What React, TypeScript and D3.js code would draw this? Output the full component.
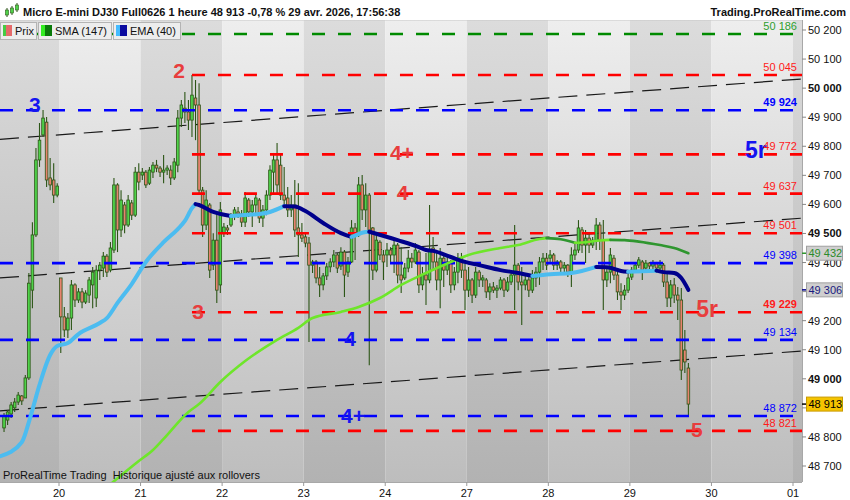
import React from 'react';
import * as d3 from 'd3';

const W = 850;
const H = 500;
const PLOT = { left: 0, right: 802, top: 20, bottom: 482 };
const FONT = "'Liberation Sans', Arial, Helvetica, sans-serif";

// ---------- data ----------
const dayLabels = ['20', '21', '22', '23', '24', '27', '28', '29', '30', '01'];
const barsPerDay = 23;
const firstDayBar = 16;

// hourly bars: [open, high, low, close]
const bars: number[][] = [
  // 19 (evening)
  [48831, 48882, 48817, 48872], [48858, 48893, 48841, 48886], [48879, 48920, 48865, 48910], [48900, 48934, 48886, 48920],
  [48920, 48955, 48910, 48944], [48941, 48944, 48910, 48924], [48934, 49013, 48934, 49003], [49003, 49364, 48996, 49329],
  [49305, 49539, 49243, 49495], [49495, 49794, 49488, 49753], [49753, 49880, 49729, 49821], [49839, 49925, 49832, 49897],
  [49883, 49901, 49660, 49684], [49691, 49760, 49649, 49667], [49684, 49742, 49605, 49632], [49632, 49673, 49625, 49663],
  // 20
  [49347, 49347, 49089, 49213], [49213, 49247, 49144, 49168], [49168, 49226, 49140, 49209], [49209, 49340, 49168, 49323],
  [49323, 49329, 49247, 49271], [49271, 49312, 49261, 49299], [49299, 49312, 49243, 49264], [49264, 49305, 49257, 49295],
  [49288, 49350, 49261, 49340], [49323, 49385, 49243, 49367], [49278, 49391, 49247, 49374], [49374, 49402, 49340, 49391],
  [49381, 49436, 49350, 49422], [49422, 49429, 49350, 49367], [49374, 49471, 49367, 49450], [49443, 49691, 49433, 49667],
  [49667, 49673, 49436, 49512], [49512, 49649, 49488, 49615], [49598, 49608, 49501, 49529], [49529, 49632, 49522, 49615],
  [49605, 49615, 49546, 49563], [49563, 49729, 49557, 49711], [49711, 49742, 49649, 49677],
  // 21
  [49701, 49725, 49684, 49711], [49711, 49718, 49656, 49667], [49673, 49729, 49667, 49718], [49711, 49746, 49691, 49735],
  [49735, 49753, 49711, 49725], [49725, 49732, 49694, 49711], [49711, 49770, 49673, 49718], [49718, 49735, 49701, 49725],
  [49718, 49735, 49667, 49691], [49691, 49760, 49684, 49746], [49735, 49925, 49711, 49897], [49897, 49959, 49866, 49942],
  [49931, 49987, 49880, 49918], [49918, 49959, 49856, 49890], [49890, 50045, 49832, 49976], [49966, 50028, 49821, 49942],
  [49942, 50017, 49639, 49649], [49649, 49660, 49488, 49529], [49529, 49649, 49512, 49615], [49598, 49605, 49347, 49374],
  [49391, 49501, 49374, 49477], [49477, 49570, 49261, 49305], [49323, 49608, 49295, 49581],
  // 22
  [49501, 49536, 49488, 49522], [49519, 49529, 49495, 49512], [49529, 49570, 49522, 49560], [49560, 49591, 49546, 49581],
  [49574, 49591, 49553, 49567], [49567, 49581, 49522, 49539], [49539, 49643, 49522, 49622], [49615, 49622, 49557, 49574],
  [49574, 49615, 49522, 49598], [49598, 49639, 49570, 49622], [49615, 49622, 49536, 49553], [49553, 49598, 49522, 49581],
  [49581, 49649, 49563, 49632], [49632, 49735, 49615, 49718], [49711, 49777, 49639, 49753], [49753, 49811, 49639, 49667],
  [49735, 49777, 49615, 49632], [49632, 49729, 49591, 49615], [49622, 49660, 49557, 49581], [49581, 49632, 49557, 49598],
  [49598, 49684, 49488, 49512], [49519, 49673, 49419, 49495], [49495, 49536, 49471, 49484],
  // 23
  [49488, 49501, 49453, 49467], [49467, 49488, 49127, 49391], [49391, 49409, 49364, 49402], [49402, 49409, 49329, 49347],
  [49347, 49385, 49281, 49323], [49323, 49364, 49305, 49354], [49354, 49398, 49340, 49385], [49385, 49415, 49367, 49402],
  [49402, 49443, 49385, 49426], [49426, 49433, 49364, 49381], [49388, 49453, 49374, 49436], [49436, 49443, 49281, 49357],
  [49367, 49419, 49350, 49402], [49402, 49546, 49398, 49519], [49519, 49536, 49409, 49495], [49495, 49694, 49488, 49667],
  [49667, 49701, 49546, 49581], [49581, 49673, 49522, 49632], [49632, 49639, 49047, 49512], [49519, 49522, 49340, 49374],
  [49374, 49501, 49367, 49477], [49470, 49477, 49409, 49426], [49426, 49443, 49340, 49402],
  // 24
  [49426, 49467, 49385, 49443], [49443, 49453, 49402, 49426], [49426, 49477, 49364, 49460], [49460, 49467, 49329, 49357],
  [49357, 49453, 49295, 49340], [49347, 49398, 49340, 49381], [49381, 49443, 49367, 49415], [49415, 49433, 49381, 49402],
  [49402, 49467, 49395, 49443], [49436, 49443, 49295, 49323], [49323, 49385, 49305, 49357], [49357, 49433, 49254, 49340],
  [49340, 49598, 49329, 49443], [49450, 49488, 49374, 49402], [49402, 49433, 49305, 49340], [49340, 49450, 49243, 49415],
  [49415, 49433, 49316, 49374], [49374, 49419, 49357, 49402], [49402, 49409, 49295, 49323], [49323, 49385, 49305, 49367],
  [49367, 49433, 49329, 49415], [49415, 49433, 49347, 49374], [49374, 49409, 49237, 49305],
  // 27
  [49305, 49385, 49281, 49340], [49340, 49347, 49261, 49288], [49288, 49385, 49278, 49367], [49367, 49374, 49316, 49340],
  [49340, 49357, 49316, 49347], [49340, 49347, 49278, 49299], [49299, 49329, 49271, 49316], [49316, 49333, 49295, 49305],
  [49305, 49323, 49278, 49312], [49312, 49350, 49305, 49340], [49340, 49347, 49281, 49305], [49305, 49350, 49299, 49333],
  [49333, 49374, 49323, 49357], [49357, 49529, 49237, 49391], [49391, 49398, 49305, 49333], [49333, 49385, 49185, 49323],
  [49323, 49364, 49305, 49340], [49340, 49350, 49281, 49305], [49305, 49374, 49295, 49347], [49347, 49385, 49316, 49367],
  [49367, 49419, 49323, 49402], [49402, 49433, 49374, 49415], [49415, 49433, 49374, 49391],
  // 28
  [49415, 49443, 49398, 49426], [49426, 49433, 49374, 49391], [49391, 49409, 49374, 49402], [49402, 49409, 49364, 49381],
  [49381, 49402, 49364, 49391], [49391, 49395, 49350, 49367], [49367, 49453, 49316, 49426], [49426, 49467, 49409, 49443],
  [49443, 49546, 49433, 49519], [49512, 49522, 49433, 49460], [49460, 49512, 49398, 49484], [49484, 49501, 49433, 49460],
  [49460, 49488, 49450, 49477], [49477, 49553, 49443, 49529], [49529, 49539, 49443, 49477], [49477, 49546, 49237, 49340],
  [49340, 49385, 49316, 49367], [49367, 49450, 49329, 49426], [49415, 49426, 49340, 49357], [49357, 49374, 49271, 49299],
  [49299, 49329, 49237, 49288], [49288, 49323, 49271, 49305], [49305, 49364, 49295, 49347],
  // 29
  [49350, 49385, 49340, 49374], [49374, 49402, 49367, 49391], [49391, 49419, 49381, 49409], [49402, 49409, 49340, 49374],
  [49381, 49409, 49374, 49398], [49398, 49402, 49374, 49388], [49388, 49409, 49374, 49398], [49398, 49402, 49364, 49381],
  [49381, 49409, 49367, 49391], [49391, 49398, 49316, 49333], [49333, 49364, 49247, 49278], [49278, 49340, 49247, 49323],
  [49323, 49347, 49261, 49288], [49288, 49316, 49202, 49271], [49271, 49312, 48996, 49030], [49099, 49168, 49020, 49058],
  [49037, 49054, 48875, 48913],
];

// moving averages: [bar index, value]
const ema40: number[][] = [
  [-1, 48734], [5, 48782], [7, 48851], [8, 48893], [10, 48979], [13, 49082], [15, 49113], [18, 49123],
  [21, 49154], [27, 49192], [29, 49209], [32, 49261], [36, 49326], [40, 49402], [45, 49470], [49, 49515],
  [51, 49543], [53, 49587], [54, 49601], [55, 49598], [59, 49574], [64, 49560], [67, 49563], [72, 49567],
  [75, 49574], [79, 49594], [82, 49593], [85, 49577], [90, 49536], [95, 49501], [98, 49488], [102, 49505],
  [103, 49506], [111, 49477], [117, 49453], [119, 49443], [121, 49440], [126, 49419], [130, 49402], [134, 49391],
  [140, 49374], [145, 49364], [149, 49354], [154, 49360], [160, 49364], [167, 49385], [170, 49384], [174, 49371],
  [176, 49368], [180, 49370], [184, 49372], [186, 49367], [189, 49364], [191, 49347], [193, 49306],
];
const sma147: number[][] = [
  [28, 48617], [38, 48717], [42, 48755], [45, 48793], [52, 48886], [55, 48913], [61, 48989], [68, 49061],
  [77, 49134], [83, 49175], [87, 49209], [95, 49230], [100, 49247], [106, 49278], [112, 49323], [119, 49364],
  [126, 49402], [131, 49426], [140, 49450], [145, 49460], [151, 49481], [153, 49484], [157, 49480], [161, 49468],
  [163, 49469], [168, 49476], [171, 49478], [175, 49477], [179, 49472], [185, 49460], [189, 49450], [193, 49432],
];

const yTicks = [48700, 48800, 48900, 49000, 49100, 49200, 49300, 49400, 49500, 49600, 49700, 49800, 49900, 50000, 50100, 50200];
const boldYTicks = [49000, 49500, 50000];

const greenLevels = [50186];
const blueLevels = [49924, 49398, 49134, 48872];
const redLevels = [50045, 49772, 49637, 49501, 49229, 48821];
const boldLevels = [49924, 49229];
const redLevelsFromBar = 53;

// trend channel: [bar1, price1, bar2, price2]
const channel: number[][] = [
  [0, 49825, 220, 50027],
  [0, 49348, 220, 49548],
  [0, 48891, 220, 49091],
];

const annotations = [
  { text: '2', bar: 49.4, price: 50062, tone: 'red' },
  { text: '3', bar: 8.7, price: 49942, tone: 'blue' },
  { text: '4+', bar: 112.2, price: 49778, tone: 'red' },
  { text: '4', bar: 112.4, price: 49641, tone: 'red' },
  { text: '3', bar: 54.7, price: 49233, tone: 'red' },
  { text: '4', bar: 97.6, price: 49139, tone: 'blue' },
  { text: '4+', bar: 98.4, price: 48874, tone: 'blue' },
  { text: '5r', bar: 212, price: 49787, tone: 'blue' },
  { text: '5r', bar: 198.3, price: 49240, tone: 'red' },
  { text: '5', bar: 195.4, price: 48825, tone: 'red' },
];

const headerTitle = 'Micro E-mini DJ30 Full0626 1 heure 48 913 -0,78 % 29 avr. 2026, 17:56:38';
const headerSite = 'Trading.ProRealTime.com';
const footerNote = 'ProRealTime Trading  Historique ajusté aux rollovers';
const legendItems = ['Prix', 'SMA (147)', 'EMA (40)'];

// ---------- helpers ----------
const fmt = d3.formatLocale({ decimal: ',', thousands: ' ', grouping: [3], currency: ['', ''] }).format(',d');

const xScale = d3
  .scaleLinear()
  .domain([firstDayBar - 0.5, firstDayBar - 0.5 + barsPerDay * (dayLabels.length - 1)])
  .range([59, 793]);
const yScale = d3.scaleLinear().domain([48700, 50200]).range([466, 30]);

function splitRuns(pts: number[][]) {
  const out: { up: boolean; pts: number[][] }[] = [];
  let cur: number[][] = [pts[0]];
  let dir: boolean | null = null;
  for (let k = 1; k < pts.length; k++) {
    const up = pts[k][1] >= pts[k - 1][1];
    if (dir === null || up === dir) {
      cur.push(pts[k]);
      dir = up;
    } else {
      out.push({ up: dir, pts: cur });
      cur = [pts[k - 1], pts[k]];
      dir = up;
    }
  }
  out.push({ up: dir as boolean, pts: cur });
  return out;
}

const maLine = d3
  .line<number[]>()
  .x((d) => xScale(d[0]))
  .y((d) => yScale(d[1]))
  .curve(d3.curveMonotoneX);

export default function App() {
  const bandW = xScale(1) - xScale(0);
  const bands: { x0: number; x1: number; light: boolean }[] = [];
  for (let k = -1; k < dayLabels.length; k++) {
    const x0 = Math.max(PLOT.left, xScale(firstDayBar - 0.5 + barsPerDay * k));
    const x1 = Math.min(PLOT.right, xScale(firstDayBar - 0.5 + barsPerDay * (k + 1)));
    if (x1 > x0) bands.push({ x0, x1, light: ((k % 2) + 2) % 2 === 0 });
  }
  const dayX = dayLabels.map((_, k) => xScale(firstDayBar - 0.5 + barsPerDay * k));
  const fullEnd = dayX[dayX.length - 1];
  const redStart = xScale(redLevelsFromBar);

  const chLines = channel.map(([b1, p1, b2, p2]) => {
    const slope = (p2 - p1) / (b2 - b1);
    const bL = xScale.invert(PLOT.left);
    const bR = xScale.invert(PLOT.right);
    return {
      x1: PLOT.left,
      y1: yScale(p1 + slope * (bL - b1)),
      x2: PLOT.right,
      y2: yScale(p1 + slope * (bR - b1)),
    };
  });

  const emaRuns = splitRuns(ema40);
  const smaRuns = splitRuns(sma147);

  const last = bars[bars.length - 1][3];
  const emaLast = ema40[ema40.length - 1][1];
  const smaLast = sma147[sma147.length - 1][1];
  const tagValues = [last, emaLast, smaLast];
  // tick labels fully covered by a price tag are not visible in the reference
  const visibleTicks = yTicks.filter((t) => tagValues.every((v) => Math.abs(yScale(t) - yScale(v)) > 8));

  const levelLabel = (v: number, color: string) => (
    <text
      key={'ll' + v}
      x={797}
      y={yScale(v) - 4}
      textAnchor="end"
      fontSize={11}
      fontWeight={boldLevels.includes(v) ? 'bold' : 'normal'}
      fill={color}
    >
      {fmt(v)}
    </text>
  );

  const tag = (v: number, fill: string, stroke: string, color: string, tick: string) => {
    const y = yScale(v);
    return (
      <g key={'tag' + v}>
        <line x1={802} x2={806} y1={y} y2={y} stroke={tick} strokeWidth={1.5} />
        <rect x={806.5} y={y - 7} width={36} height={14} fill={fill} stroke={stroke} strokeWidth={1} />
        <text x={808.5} y={y + 4} fontSize={11} fill={color}>
          {fmt(v)}
        </text>
      </g>
    );
  };

  return (
    <svg
      width={W}
      height={H}
      viewBox={`0 0 ${W} ${H}`}
      style={{ position: 'absolute', left: 0, top: 0, display: 'block', background: '#fff' }}
      fontFamily={FONT}
    >
      <defs>
        <linearGradient id="bgLight" x1="0" y1="0" x2="0" y2="1">
          <stop offset="0" stopColor="#eeeeee" />
          <stop offset="1" stopColor="#bdbdbd" />
        </linearGradient>
        <linearGradient id="bgDark" x1="0" y1="0" x2="0" y2="1">
          <stop offset="0" stopColor="#dcdcdc" />
          <stop offset="1" stopColor="#b2b2b2" />
        </linearGradient>
        <clipPath id="plotClip">
          <rect x={PLOT.left} y={PLOT.top} width={PLOT.right - PLOT.left} height={PLOT.bottom - PLOT.top} />
        </clipPath>
      </defs>

      <rect x={0} y={0} width={W} height={H} fill="#ffffff" />

      {/* day bands */}
      {bands.map((b, i) => (
        <rect
          key={'band' + i}
          x={b.x0}
          y={PLOT.top}
          width={b.x1 - b.x0}
          height={PLOT.bottom - PLOT.top}
          fill={b.light ? 'url(#bgLight)' : 'url(#bgDark)'}
        />
      ))}

      <g clipPath="url(#plotClip)">
        {/* trend channel */}
        {chLines.map((l, i) => (
          <line
            key={'ch' + i}
            x1={l.x1}
            y1={l.y1}
            x2={l.x2}
            y2={l.y2}
            stroke="#1a1a1a"
            strokeWidth={1.2}
            strokeDasharray="19 9"
          />
        ))}

        {/* candles */}
        {bars.map((b, i) => {
          const [o, h, l, c] = b;
          const x = xScale(i);
          const up = c >= o;
          const yTop = yScale(Math.max(o, c));
          const yBot = yScale(Math.min(o, c));
          return (
            <g key={'bar' + i}>
              <line x1={x} x2={x} y1={yScale(h)} y2={yScale(l)} stroke="#2c5516" strokeWidth={1.1} />
              <rect
                x={x - bandW * 0.37}
                y={yTop}
                width={bandW * 0.74}
                height={Math.max(1, yBot - yTop)}
                fill={up ? '#4fd34a' : '#e7836f'}
                stroke="#2c5516"
                strokeWidth={0.8}
              />
            </g>
          );
        })}

        {/* horizontal levels */}
        {greenLevels.map((v) => (
          <line key={'g' + v} x1={0} x2={fullEnd} y1={yScale(v)} y2={yScale(v)} stroke="#008a00" strokeWidth={2.6} strokeDasharray="13 13" />
        ))}
        {blueLevels.map((v) => (
          <line key={'b' + v} x1={0} x2={fullEnd} y1={yScale(v)} y2={yScale(v)} stroke="#0000ff" strokeWidth={2.6} strokeDasharray="13 13" />
        ))}
        {redLevels.map((v) => (
          <line key={'r' + v} x1={redStart} x2={PLOT.right} y1={yScale(v)} y2={yScale(v)} stroke="#ff0000" strokeWidth={2.6} strokeDasharray="13 13" />
        ))}

        {/* moving averages */}
        {smaRuns.map((r, i) => (
          <path key={'sma' + i} d={maLine(r.pts) || ''} fill="none" stroke={r.up ? '#6ee62a' : '#2f962f'} strokeWidth={2.6} strokeLinecap="round" />
        ))}
        {emaRuns.map((r, i) => (
          <path key={'ema' + i} d={maLine(r.pts) || ''} fill="none" stroke={r.up ? '#4cbcf0' : '#00008c'} strokeWidth={4} strokeLinecap="round" />
        ))}

        {/* annotations */}
        {annotations.map((a, i) => (
          <text
            key={'an' + i}
            x={xScale(a.bar)}
            y={yScale(a.price) + 7.5}
            textAnchor="middle"
            fontSize={a.text === '5r' ? 23 : 21}
            fontWeight="bold"
            fill={a.tone === 'red' ? '#e83d3d' : '#1414f0'}
          >
            {a.text}
          </text>
        ))}

        {/* level value labels */}
        {greenLevels.map((v) => levelLabel(v, '#2e9e2e'))}
        {blueLevels.map((v) => levelLabel(v, '#0000ff'))}
        {redLevels.map((v) => levelLabel(v, '#ff1a1a'))}

        <text x={3} y={479} fontSize={11} fill="#111" xmlSpace="preserve" style={{ whiteSpace: 'pre' }}>
          {footerNote}
        </text>
      </g>

      {/* plot frame */}
      <line x1={PLOT.left} x2={PLOT.right} y1={PLOT.top} y2={PLOT.top} stroke="#c8c8c8" />
      <line x1={PLOT.right + 0.5} x2={PLOT.right + 0.5} y1={PLOT.top} y2={PLOT.bottom} stroke="#a8a8a8" />
      <line x1={PLOT.left} x2={PLOT.right} y1={PLOT.bottom + 0.5} y2={PLOT.bottom + 0.5} stroke="#a8a8a8" />

      {/* y axis */}
      {yTicks.map((t) => (
        <line key={'ytl' + t} x1={802} x2={806} y1={yScale(t)} y2={yScale(t)} stroke="#888" />
      ))}
      {visibleTicks.map((t) => (
        <text
          key={'yt' + t}
          x={808}
          y={yScale(t) + 4}
          fontSize={11}
          fill="#111"
          fontWeight={boldYTicks.includes(t) ? 'bold' : 'normal'}
        >
          {fmt(t)}
        </text>
      ))}
      {tag(smaLast, '#cfcfcf', '#a0a0a0', '#2a8a2a', '#2f962f')}
      {tag(emaLast, '#cfcfcf', '#a0a0a0', '#1a1a80', '#00008c')}
      {tag(last, '#f5c400', '#c99a00', '#000', '#000')}

      {/* x axis */}
      {dayLabels.map((d, k) => (
        <g key={'xt' + d}>
          <line x1={dayX[k]} x2={dayX[k]} y1={PLOT.bottom} y2={PLOT.bottom + 4} stroke="#999" />
          <text x={dayX[k]} y={497} fontSize={11} textAnchor="middle" fill="#111">
            {d}
          </text>
        </g>
      ))}

      {/* legend */}
      {[
        [0, 37],
        [38, 112],
        [113, 181],
      ].map(([a, b], i) => (
        <rect key={'lg' + i} x={a + 0.5} y={22.5} width={b - a - 1} height={17} fill="#ededed" stroke="#b4b4b4" />
      ))}
      <rect x={3} y={25} width={3} height={11} fill="#44cc44" />
      <rect x={6} y={25} width={6} height={11} fill="#e56a6a" />
      <rect x={41} y={25} width={4} height={11} fill="#33ee22" />
      <rect x={45} y={25} width={7} height={11} fill="#0a7a0a" />
      <rect x={116} y={25} width={4} height={11} fill="#44bbff" />
      <rect x={120} y={25} width={7} height={11} fill="#0a0aa0" />
      <text x={15} y={35} fontSize={11} fill="#111">
        {legendItems[0]}
      </text>
      <text x={55} y={35} fontSize={11} fill="#111">
        {legendItems[1]}
      </text>
      <text x={130} y={35} fontSize={11} fill="#111">
        {legendItems[2]}
      </text>

      {/* header */}
      <rect x={0} y={0} width={W} height={PLOT.top} fill="#fff" />
      <g>
        <line x1={7} x2={7} y1={8} y2={17} stroke="#2c5516" />
        <rect x={5.5} y={10} width={3} height={5} fill="#4fd34a" stroke="#2c5516" strokeWidth={0.6} />
        <line x1={12} x2={12} y1={6} y2={15} stroke="#2c5516" />
        <rect x={10.5} y={8} width={3} height={5} fill="#4fd34a" stroke="#2c5516" strokeWidth={0.6} />
        <line x1={17} x2={17} y1={3} y2={12} stroke="#2c5516" />
        <rect x={15.5} y={5} width={3} height={5} fill="#4fd34a" stroke="#2c5516" strokeWidth={0.6} />
      </g>
      <text x={23} y={16} fontSize={11} fontWeight="bold" fill="#111">
        {headerTitle}
      </text>
      <text x={846} y={16} fontSize={11} fontWeight="bold" fill="#111" textAnchor="end">
        {headerSite}
      </text>
    </svg>
  );
}
